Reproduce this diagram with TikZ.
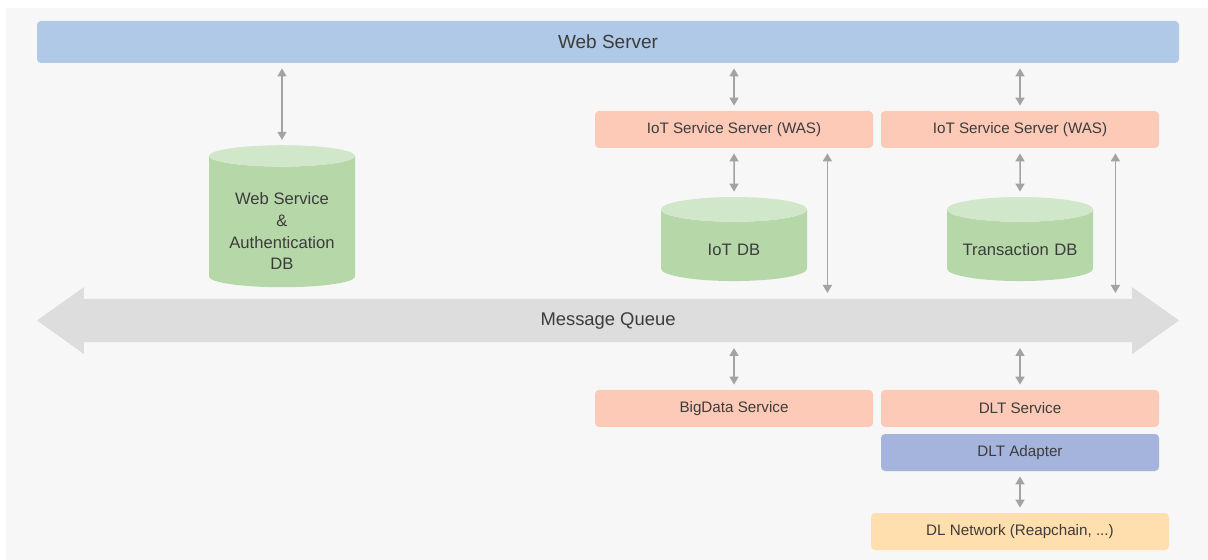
\documentclass[tikz,border=0pt]{standalone}
\usepackage{fontspec}
\setmainfont{Liberation Sans}
\usetikzlibrary{positioning,calc,arrows.meta,shapes.geometric,shapes.arrows}

\definecolor{bgcol}{HTML}{F7F7F7}
\definecolor{webblue}{HTML}{AFC9E7}
\definecolor{salmon}{HTML}{FCCAB6}
\definecolor{dbbody}{HTML}{B6D7A8}
\definecolor{dbtop}{HTML}{D0E7C9}
\definecolor{adapter}{HTML}{A5B4DC}
\definecolor{dlnet}{HTML}{FEDFAD}
\definecolor{mqgray}{HTML}{DCDDDC}
\definecolor{linkgray}{HTML}{A3A3A3}
\definecolor{txt}{HTML}{3C3C3C}

\begin{document}
\begin{tikzpicture}[x=0.5pt, y=-0.5pt,
    bar/.style={rectangle, rounded corners=2pt, fill=webblue, minimum width=571pt, minimum height=21pt, text=txt, font=\fontsize{9.5}{11}\selectfont},
    box/.style={rectangle, rounded corners=2pt, fill=salmon, minimum width=139pt, minimum height=18.5pt, text=txt, font=\fontsize{7.6}{9}\selectfont},
    db/.style={cylinder, shape border rotate=90, aspect=0.18, cylinder uses custom fill, cylinder body fill=dbbody, cylinder end fill=dbtop, minimum width=73pt, text=txt, align=center, font=\fontsize{8.3}{10.9}\selectfont},
    smalldb/.style={db, minimum height=42pt, text width=62pt, text height=7.5pt},
    queue/.style={double arrow, fill=mqgray, minimum height=571pt, minimum width=33.5pt, double arrow head extend=4.2pt, double arrow tip angle=71, text=txt, font=\fontsize{9.2}{11}\selectfont},
    link/.style={{Triangle[width=4.5pt,length=4pt]}-{Triangle[width=4.5pt,length=4pt]}, draw=linkgray, line width=0.75pt, shorten <=2.5pt, shorten >=2.5pt}
]
    \fill[bgcol] (6,8) rectangle (1208,560);
    \useasboundingbox (0,0) rectangle (1208,560);

    % top layer
    \node[bar] (web) at (608,42) {Web Server};
    \node[box] (was1) at (734,129.5) {IoT Service Server (WAS)};
    \node[box] (was2) at (1020,129.5) {IoT Service Server (WAS)};

    % databases
    \node[db, minimum height=71pt, text height=46pt] (authdb) at (282,224) {Web Service\\\&\\Authentication\\DB};
    \node[smalldb] (iotdb) at (734,248) {IoT DB};
    \node[smalldb] (txdb) at (1020,248) {Transaction DB};

    % message queue
    \node[queue] (mq) at (608,320.5) {Message Queue};
    \coordinate (mqtop) at (608,298);
    \coordinate (mqbot) at (608,343);

    % bottom layer
    \node[box] (bigdata) at (734,408.5) {BigData Service};
    \node[box] (dlt) at (1020,408.5) {DLT Service};
    \node[box, fill=adapter] (adapt) at (1020,452.5) {DLT Adapter};
    \node[box, fill=dlnet, minimum width=149pt] (dlnet) at (1020,531.5) {DL Network (Reapchain, ...)};

    % links
    \draw[link] (web.south -| authdb.north) -- (authdb.north);
    \draw[link] (web.south -| was1.north) -- (was1.north);
    \draw[link] (web.south -| was2.north) -- (was2.north);
    \draw[link] (was1.south) -- (iotdb.north);
    \draw[link] (was2.south) -- (txdb.north);
    \draw[link] ([xshift=-23pt]was1.south east) -- ([xshift=-23pt]was1.south east |- mqtop);
    \draw[link] ([xshift=-22pt]was2.south east) -- ([xshift=-22pt]was2.south east |- mqtop);
    \draw[link] (mqbot -| bigdata.north) -- (bigdata.north);
    \draw[link] (mqbot -| dlt.north) -- (dlt.north);
    \draw[link] (adapt.south) -- (dlnet.north);
\end{tikzpicture}
\end{document}
